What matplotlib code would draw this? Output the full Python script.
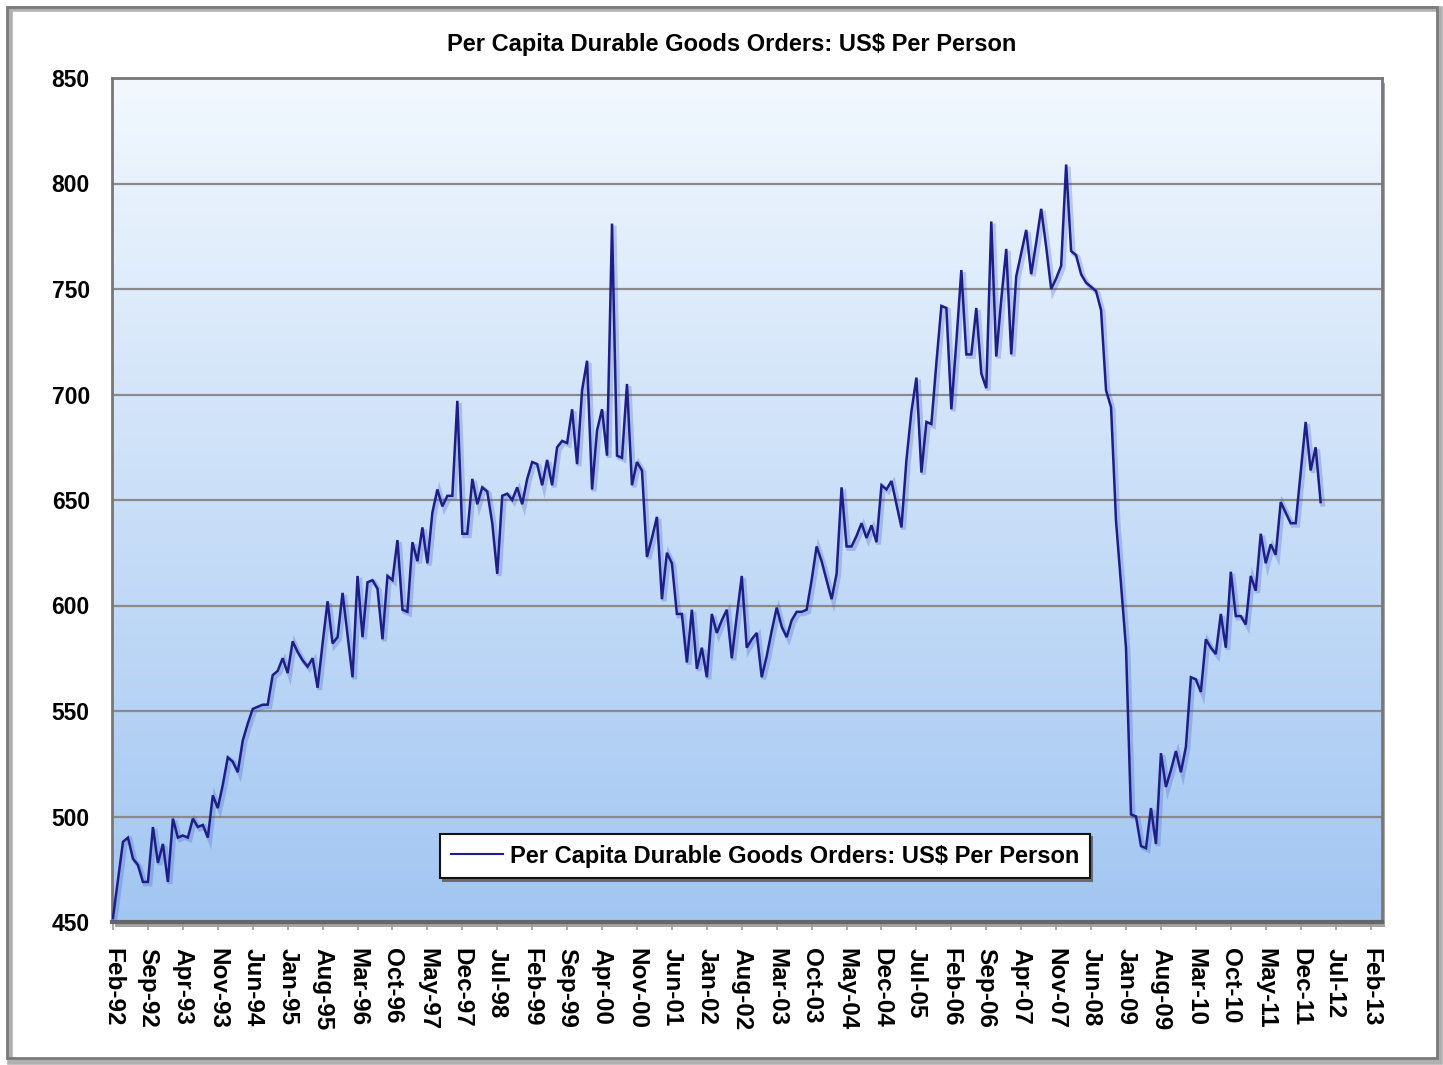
import numpy as np
import matplotlib
matplotlib.use("Agg")
import matplotlib.pyplot as plt
from matplotlib import font_manager
from matplotlib.patches import Rectangle
import matplotlib.patheffects as pe

# Monthly per capita durable goods orders (US$ per person), Feb-1992 onward
orders = [
    452, 470, 488, 490, 480, 477, 469, 469, 495, 478,
    487, 469, 499, 490, 491, 490, 499, 495, 496, 490,
    510, 504, 515, 528, 526, 521, 536, 544, 551, 552,
    553, 553, 567, 569, 575, 568, 583, 578, 574, 571,
    575, 561, 582, 602, 582, 585, 606, 586, 566, 614,
    585, 611, 612, 608, 584, 614, 612, 631, 598, 597,
    630, 621, 637, 620, 644, 655, 647, 652, 652, 697,
    634, 634, 660, 648, 656, 654, 639, 615, 652, 653,
    650, 656, 648, 660, 668, 667, 657, 669, 657, 675,
    678, 677, 693, 667, 702, 716, 655, 683, 693, 671,
    781, 671, 670, 705, 657, 668, 664, 623, 632, 642,
    603, 625, 620, 596, 596, 573, 598, 570, 580, 566,
    596, 587, 593, 598, 575, 595, 614, 580, 584, 587,
    566, 576, 588, 599, 590, 585, 593, 597, 597, 598,
    612, 628, 621, 612, 603, 615, 656, 628, 628, 633,
    639, 632, 638, 630, 657, 655, 659, 648, 637, 669,
    692, 708, 663, 687, 686, 715, 742, 741, 693, 725,
    759, 719, 719, 741, 710, 703, 782, 718, 745, 769,
    719, 756, 767, 778, 757, 772, 788, 770, 750, 755,
    761, 809, 768, 766, 757, 753, 751, 749, 740, 702,
    694, 640, 610, 580, 501, 500, 486, 485, 504, 487,
    530, 514, 522, 531, 521, 533, 566, 565, 559, 584,
    580, 577, 596, 580, 616, 595, 595, 591, 614, 607,
    634, 620, 629, 624, 649, 644, 639, 639, 663, 687,
    664, 675, 649,
]

# Category labels every seven months, starting Feb-92
tick_labels = [
    "Feb-92", "Sep-92", "Apr-93", "Nov-93", "Jun-94", "Jan-95", "Aug-95",
    "Mar-96", "Oct-96", "May-97", "Dec-97", "Jul-98", "Feb-99", "Sep-99",
    "Apr-00", "Nov-00", "Jun-01", "Jan-02", "Aug-02", "Mar-03", "Oct-03",
    "May-04", "Dec-04", "Jul-05", "Feb-06", "Sep-06", "Apr-07", "Nov-07",
    "Jun-08", "Jan-09", "Aug-09", "Mar-10", "Oct-10", "May-11", "Dec-11",
    "Jul-12", "Feb-13",
]
tick_step = 7
y_ticks = [450, 500, 550, 600, 650, 700, 750, 800, 850]

title = "Per Capita Durable Goods Orders: US$ Per Person"
series_name = "Per Capita Durable Goods Orders: US$ Per Person"

# Font: a narrow sans if present
names = {f.name for f in font_manager.fontManager.ttflist}
base = "Liberation Sans Narrow" if "Liberation Sans Narrow" in names else "Liberation Sans"
plt.rcParams["font.family"] = [base, "DejaVu Sans"]

W, H = 1443, 1065
fig = plt.figure(figsize=(W / 100, H / 100), dpi=100)
fig.patch.set_facecolor("white")

# Outer frame of the chart with a soft shadow
fig.patches.append(Rectangle((10 / W, 1 - 1062 / H), 1430 / W, 1053 / H,
                             transform=fig.transFigure, facecolor="none",
                             edgecolor="#b0b0b0", linewidth=4, zorder=0))
fig.patches.append(Rectangle((7 / W, 1 - 1058 / H), 1430 / W, 1051 / H,
                             transform=fig.transFigure, facecolor="none",
                             edgecolor="#7a7a7a", linewidth=2, zorder=1))

left, right, top, bottom = 112, 1382, 78, 922
ax_rect = [left / W, 1 - bottom / H, (right - left) / W, (bottom - top) / H]

# Shadow behind the plot area
fig.patches.append(Rectangle((ax_rect[0] + 3 / W, ax_rect[1] - 5 / H), ax_rect[2], ax_rect[3],
                             transform=fig.transFigure, facecolor="#8c8c8c",
                             edgecolor="none", zorder=1, alpha=0.8))

ax = fig.add_axes(ax_rect)
ax.set_zorder(2)

x = np.arange(len(orders))
xmax = 254.3
ax.set_xlim(-0.2, xmax)
ax.set_ylim(450, 850)

# Vertical gradient background of the plot area
grad = np.linspace(0, 1, 256).reshape(-1, 1)
top_c = np.array([242, 248, 254]) / 255
bot_c = np.array([162, 198, 242]) / 255
img = top_c * (1 - grad[..., None]) + bot_c * grad[..., None]
img = img.reshape(256, 1, 3)
ax.imshow(img, extent=(-0.2, xmax, 450, 850), origin="upper", aspect="auto", zorder=0)

for yv in y_ticks[1:-1]:
    ax.axhline(yv, color="#8a8a8a", linewidth=1.6, zorder=1)

ax.plot(x, orders, color="#1e1e86", linewidth=1.8, zorder=3,
        label=series_name, solid_joinstyle="miter",
        path_effects=[pe.SimpleLineShadow(offset=(1.5, -1.5), shadow_color="#3050c0",
                                          alpha=0.25, linewidth=3.5),
                      pe.Normal()])

for s in ax.spines.values():
    s.set_color("#777777")
    s.set_linewidth(2)
ax.spines["bottom"].set_linewidth(3)
ax.spines["bottom"].set_color("#666666")

tick_pos = np.arange(len(tick_labels)) * tick_step
ax.set_xticks(tick_pos)
ax.set_xticklabels(tick_labels, rotation=270, fontsize=17.5, fontweight="bold",
                   va="top", ha="center")
ax.tick_params(axis="x", which="major", length=6, width=1.2, color="#999999", pad=13)
ax.set_yticks(y_ticks)
ax.set_yticklabels([str(v) for v in y_ticks], fontsize=16.5, fontweight="bold")
ax.tick_params(axis="y", length=0, pad=16)

fig.text(732 / W, 1 - 44 / H, title, ha="center", va="center",
         fontsize=17, fontweight="bold")

leg = ax.legend(loc="center", bbox_to_anchor=(0.514, 0.078), frameon=True,
                fancybox=False, shadow={"color": "#666666", "alpha": 0.9},
                prop={"size": 17, "weight": "bold"}, handlelength=2.2,
                borderpad=0.45, handletextpad=0.3)
leg.get_frame().set_edgecolor("#111111")
leg.get_frame().set_linewidth(1.5)
leg.get_frame().set_facecolor("white")
leg.set_zorder(5)
for line in leg.get_lines():
    line.set_path_effects([])
    line.set_linewidth(1.5)

fig.savefig("out.png", dpi=100)
